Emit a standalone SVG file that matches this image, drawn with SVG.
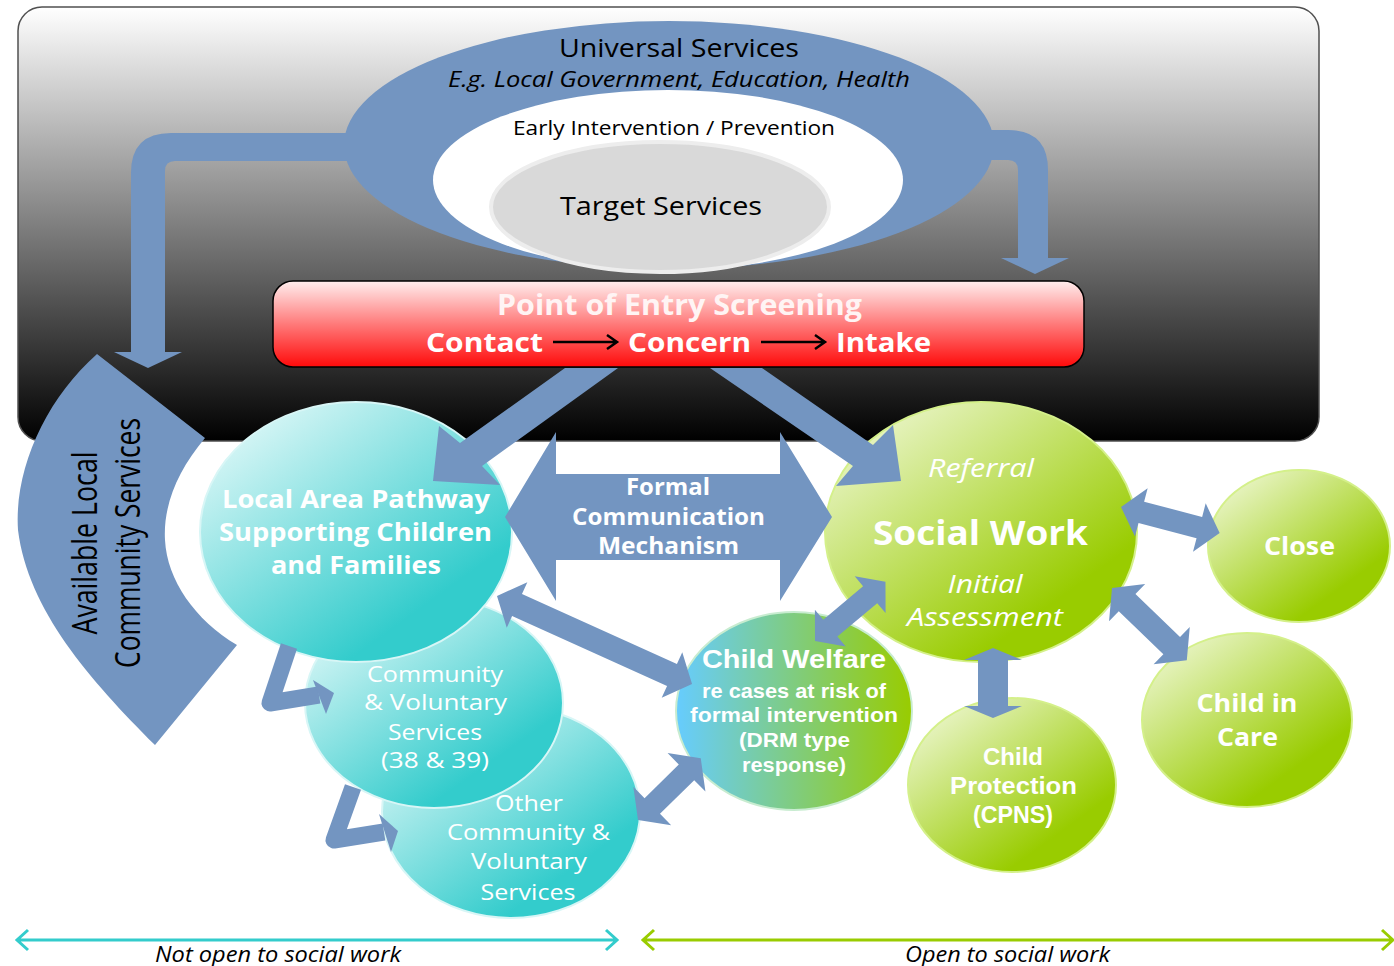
<svg xmlns="http://www.w3.org/2000/svg" width="1394" height="966" viewBox="0 0 1394 966">
<defs>
<linearGradient id="bgGrad" x1="0" y1="0" x2="0" y2="1">
<stop offset="0" stop-color="#ffffff"/><stop offset="1" stop-color="#000000"/>
</linearGradient>
<linearGradient id="redGrad" x1="0" y1="0" x2="0" y2="1">
<stop offset="0" stop-color="#ffeeee"/><stop offset="0.5" stop-color="#ff7a7a"/><stop offset="1" stop-color="#ff0a0a"/>
</linearGradient>
<linearGradient id="cyanGrad" x1="0.05" y1="0.05" x2="0.7" y2="0.8">
<stop offset="0" stop-color="#e8fafa"/><stop offset="1" stop-color="#33cccc"/>
</linearGradient>
<linearGradient id="greenGrad" x1="0.05" y1="0.05" x2="0.7" y2="0.8">
<stop offset="0" stop-color="#f0f8d8"/><stop offset="1" stop-color="#99cc00"/>
</linearGradient>
<linearGradient id="cwGrad" x1="0" y1="0" x2="1" y2="0">
<stop offset="0" stop-color="#66ccff"/><stop offset="1" stop-color="#99cc00"/>
</linearGradient>
</defs>
<style>
.t{font-family:"Open Sans","Liberation Sans",sans-serif;}
.a{font-family:"Liberation Sans","Open Sans",sans-serif;}
.b{font-weight:bold}
.i{font-style:italic}
.w{fill:#ffffff}
.k{fill:#000000}
.m{text-anchor:middle}
.blue{fill:#7395c1}
.cy{fill:url(#cyanGrad);stroke:#d8f6f6;stroke-width:2}
.gr{fill:url(#greenGrad);stroke:#d4f08a;stroke-width:2}
.ln{fill:none;stroke:#000;stroke-width:2.5}
</style>

<g id="background">
<rect x="18" y="7" width="1301" height="434" rx="24" fill="url(#bgGrad)" stroke="#505050" stroke-width="1.5"/>
</g>

<g id="universal-services">
<ellipse cx="669" cy="145" rx="325" ry="124" class="blue"/>
<text class="t k m" x="679" y="57" font-size="25" textLength="240" lengthAdjust="spacingAndGlyphs">Universal Services</text>
<text class="t k m i" x="679" y="87" font-size="22" textLength="462" lengthAdjust="spacingAndGlyphs">E.g. Local Government, Education, Health</text>
</g>

<g id="early-intervention">
<ellipse cx="668" cy="180" rx="235" ry="90" fill="#ffffff"/>
<text class="t k m" x="674" y="135" font-size="20" textLength="322" lengthAdjust="spacingAndGlyphs">Early Intervention / Prevention</text>
</g>

<g id="target-services">
<ellipse cx="660" cy="207" rx="169" ry="65" fill="#d9d9d9" stroke="#ededed" stroke-width="4"/>
<text class="t k m" x="661" y="215" font-size="25" textLength="202" lengthAdjust="spacingAndGlyphs">Target Services</text>
</g>

<g id="point-of-entry">
<rect x="273" y="281" width="811" height="86" rx="20" fill="url(#redGrad)" stroke="#000" stroke-width="1.5"/>
<text class="t b m" fill="#fff4f4" x="679.5" y="315" font-size="28" textLength="365" lengthAdjust="spacingAndGlyphs">Point of Entry Screening</text>
<text class="t b w" x="426" y="352" font-size="27" textLength="117" lengthAdjust="spacingAndGlyphs">Contact</text>
<text class="t b w" x="628" y="352" font-size="27" textLength="123" lengthAdjust="spacingAndGlyphs">Concern</text>
<text class="t b w" x="836" y="352" font-size="27" textLength="95" lengthAdjust="spacingAndGlyphs">Intake</text>
<path class="ln" d="M553,342 H615 M607,335 L617,342 L607,349"/>
<path class="ln" d="M761,342 H823 M815,335 L825,342 L815,349"/>
</g>

<g id="available-local">
<path class="blue" d="M97,354 L205,438 C178,470 163,505 165,540 C167,580 195,620 237,645 L155,745 C90,680 28,610 18,530 C14,470 45,400 97,354 Z"/>
<text class="t k m" transform="translate(97,543) rotate(-90)" x="0" y="0" font-size="34" textLength="183" lengthAdjust="spacingAndGlyphs">Available Local</text>
<text class="t k m" transform="translate(140,543) rotate(-90)" x="0" y="0" font-size="34" textLength="250" lengthAdjust="spacingAndGlyphs">Community Services</text>
</g>

<g id="other-community">
<ellipse cx="511" cy="812" rx="129" ry="106" class="cy"/>
<text class="t w m" x="529" y="811" font-size="22.5" textLength="68" lengthAdjust="spacingAndGlyphs">Other</text>
<text class="t w m" x="528.5" y="840" font-size="22.5" textLength="163" lengthAdjust="spacingAndGlyphs">Community &amp;</text>
<text class="t w m" x="529" y="869" font-size="22.5" textLength="116" lengthAdjust="spacingAndGlyphs">Voluntary</text>
<text class="t w m" x="528" y="900" font-size="22.5" textLength="95" lengthAdjust="spacingAndGlyphs">Services</text>
</g>

<g id="community-voluntary">
<ellipse cx="434" cy="703" rx="129" ry="105" class="cy"/>
<text class="t w m" x="435" y="682" font-size="22.5" textLength="136" lengthAdjust="spacingAndGlyphs">Community</text>
<text class="t w m" x="435.5" y="710" font-size="22.5" textLength="143" lengthAdjust="spacingAndGlyphs">&amp; Voluntary</text>
<text class="t w m" x="435" y="740" font-size="22.5" textLength="94" lengthAdjust="spacingAndGlyphs">Services</text>
<text class="t w m" x="435" y="768" font-size="22.5" textLength="108" lengthAdjust="spacingAndGlyphs">(38 &amp; 39)</text>
</g>

<g id="local-area-pathway">
<ellipse cx="356" cy="532" rx="156" ry="130" class="cy"/>
<text class="t b w m" x="356" y="508" font-size="25.5" textLength="268" lengthAdjust="spacingAndGlyphs">Local Area Pathway</text>
<text class="t b w m" x="355.5" y="541" font-size="25.5" textLength="273" lengthAdjust="spacingAndGlyphs">Supporting Children</text>
<text class="t b w m" x="356" y="574" font-size="25.5" textLength="170" lengthAdjust="spacingAndGlyphs">and Families</text>
</g>

<g id="social-work">
<ellipse cx="981" cy="532" rx="156" ry="130" class="gr"/>
<text class="t i w m" x="981" y="477" font-size="25" textLength="106" lengthAdjust="spacingAndGlyphs">Referral</text>
<text class="t b w m" x="980.5" y="545" font-size="33.5" textLength="215" lengthAdjust="spacingAndGlyphs">Social Work</text>
<text class="t i w m" x="985" y="593" font-size="25" textLength="75" lengthAdjust="spacingAndGlyphs">Initial</text>
<text class="t i w m" x="985" y="626" font-size="25" textLength="156" lengthAdjust="spacingAndGlyphs">Assessment</text>
</g>

<g id="close">
<ellipse cx="1299" cy="546" rx="91" ry="76" class="gr"/>
<text class="t b w m" x="1299.5" y="555" font-size="25" textLength="71" lengthAdjust="spacingAndGlyphs">Close</text>
</g>

<g id="child-in-care">
<ellipse cx="1247" cy="720" rx="105" ry="87" class="gr"/>
<text class="t b w m" x="1247" y="712" font-size="25" textLength="101" lengthAdjust="spacingAndGlyphs">Child in</text>
<text class="t b w m" x="1247.5" y="746" font-size="25" textLength="61" lengthAdjust="spacingAndGlyphs">Care</text>
</g>

<g id="child-protection">
<ellipse cx="1012" cy="785" rx="104" ry="87" class="gr"/>
<text class="a b w m" x="1013" y="765" font-size="24" textLength="60" lengthAdjust="spacingAndGlyphs">Child</text>
<text class="a b w m" x="1013.5" y="794" font-size="24" textLength="127" lengthAdjust="spacingAndGlyphs">Protection</text>
<text class="a b w m" x="1013" y="823" font-size="24" textLength="80" lengthAdjust="spacingAndGlyphs">(CPNS)</text>
</g>

<g id="child-welfare">
<ellipse cx="794" cy="711" rx="118" ry="99" fill="url(#cwGrad)" stroke="#c8ecd0" stroke-width="2"/>
<text class="a b w m" x="794" y="668" font-size="26.5" textLength="184" lengthAdjust="spacingAndGlyphs">Child Welfare</text>
<text class="a b w m" x="794" y="698" font-size="20.5" textLength="184" lengthAdjust="spacingAndGlyphs">re cases at risk of</text>
<text class="a b w m" x="794" y="722" font-size="20.5" textLength="208" lengthAdjust="spacingAndGlyphs">formal intervention</text>
<text class="a b w m" x="794.5" y="747" font-size="20.5" textLength="111" lengthAdjust="spacingAndGlyphs">(DRM type</text>
<text class="a b w m" x="794" y="772" font-size="20.5" textLength="104" lengthAdjust="spacingAndGlyphs">response)</text>
</g>

<g id="connectors" class="blue">
<path d="M360,133 L171,133 Q131,133 131,173 L131,352 L114,352 L148,368 L182,352 L165,352 L165,171 Q165,161 175,161 L360,161 Z"/>
<path d="M960,130 L1008,130 Q1048,130 1048,170 L1048,258 L1069,258 L1035,274 L1001,258 L1018,258 L1018,170 Q1018,160 1008,160 L960,160 Z"/>
<polygon points="565,368 460,443 439,426 433,481 500,485 482,466 618,368"/>
<polygon points="710,368 853,466 836,486 901,481 893,425 873,445 762,368"/>
<polygon transform="translate(497,596) rotate(24.3)" points="0,0 22,-25 22,-12 192,-12 192,-25 214,0 192,25 192,12 22,12 22,25"/>
<polygon transform="translate(815,641) rotate(-40)" points="0,0 20,-24 20,-11 72,-11 72,-24 92,0 72,24 72,11 20,11 20,24"/>
<polygon transform="translate(1121,507) rotate(14.7)" points="0,0 21,-25 21,-11 81,-11 81,-25 102,0 81,25 81,11 21,11 21,25"/>
<polygon transform="translate(1112,588) rotate(44)" points="0,0 21,-26 21,-12 83,-12 83,-26 104,0 83,26 83,12 21,12 21,26"/>
<polygon points="993,648 1022,660 1008,660 1008,706 1022,706 993,718 964,706 978,706 978,660 964,660"/>
<polygon transform="translate(638,820) rotate(-44.5)" points="0,0 20,-27 20,-11 68,-11 68,-27 88,0 68,27 68,11 20,11 20,27"/>
<path d="M289,646 L270,703 L319,695" fill="none" stroke="#7395c1" stroke-width="17" stroke-linejoin="round"/>
<polygon points="313,680 334,693 326,714"/>
<path d="M353,787 L334,840 L384,832" fill="none" stroke="#7395c1" stroke-width="17" stroke-linejoin="round"/>
<polygon points="379,814 398,831 391,852"/>
</g>

<g id="formal-communication">
<polygon class="blue" points="505,517 556,432 556,474 780,474 780,432 832,517 780,601 780,560 556,560 556,601"/>
<text class="t b w m" x="668" y="495" font-size="22.5" textLength="84" lengthAdjust="spacingAndGlyphs">Formal</text>
<text class="t b w m" x="668.5" y="525" font-size="22.5" textLength="193" lengthAdjust="spacingAndGlyphs">Communication</text>
<text class="t b w m" x="668.5" y="554" font-size="22.5" textLength="141" lengthAdjust="spacingAndGlyphs">Mechanism</text>
</g>

<g id="legend">
<path d="M18,940 H616 M28,930 L17,940 L28,950 M606,930 L617,940 L606,950" fill="none" stroke="#33cccc" stroke-width="3"/>
<path d="M644,940 H1392 M654,930 L643,940 L654,950 M1382,930 L1393,940 L1382,950" fill="none" stroke="#99cc00" stroke-width="3"/>
<text class="t i k m" x="278" y="962" font-size="21" textLength="246" lengthAdjust="spacingAndGlyphs">Not open to social work</text>
<text class="t i k m" x="1007.5" y="962" font-size="21" textLength="205" lengthAdjust="spacingAndGlyphs">Open to social work</text>
</g>
</svg>
